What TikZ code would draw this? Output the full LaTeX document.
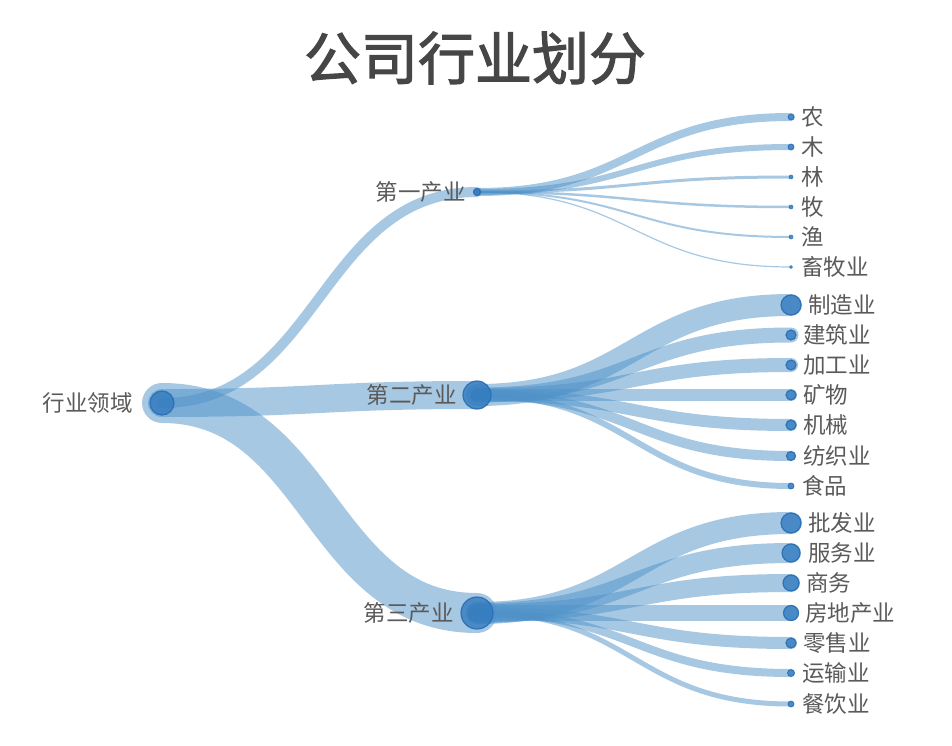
\documentclass[tikz,border=0pt]{standalone}
\usepackage{fontspec}
\newfontfamily\cjk{Noto Sans CJK SC}
\newfontfamily\cjktitle[FakeBold=2]{Noto Sans CJK SC}
\definecolor{linkc}{RGB}{79,146,200}
\definecolor{dotc}{RGB}{50,122,190}
\definecolor{dotline}{RGB}{40,110,180}
\definecolor{txt}{RGB}{90,90,90}
\definecolor{ttl}{RGB}{70,70,70}
\tikzset{
  lnk/.style={draw=linkc, draw opacity=0.5, line cap=round},
  dot/.style={circle, inner sep=0pt, fill=dotc, fill opacity=0.8, draw=dotline, draw opacity=0.9, line width=1.2pt},
  lbl/.style={font=\cjk\fontsize{22.5}{22.5}\selectfont, text=txt, inner sep=0pt},
  ttlstyle/.style={font=\cjktitle\fontsize{57}{57}\selectfont, text=ttl, inner sep=0pt},
}
\newcommand{\lk}[3]{\draw[lnk, line width=#3pt] (#1.center) .. controls +(157,0) and +(-157,0) .. (#2.center);}
\begin{document}
\begin{tikzpicture}[x=1pt,y=-1pt]
\useasboundingbox (0,0) rectangle (952,746);
\coordinate (r) at (162,403);
\coordinate (a) at (477,192);
\coordinate (b) at (477,395);
\coordinate (c) at (477,613);
\coordinate (a1) at (791,117);
\coordinate (a2) at (791,147);
\coordinate (a3) at (791,177);
\coordinate (a4) at (791,207);
\coordinate (a5) at (791,237);
\coordinate (a6) at (791,267);
\coordinate (b1) at (791,305);
\coordinate (b2) at (791,335);
\coordinate (b3) at (791,365);
\coordinate (b4) at (791,395);
\coordinate (b5) at (791,425);
\coordinate (b6) at (791,456);
\coordinate (b7) at (791,486);
\coordinate (c1) at (791,523);
\coordinate (c2) at (791,553);
\coordinate (c3) at (791,583);
\coordinate (c4) at (791,613);
\coordinate (c5) at (791,643);
\coordinate (c6) at (791,673);
\coordinate (c7) at (791,704);
% links
\lk{r}{a}{10}
\lk{r}{b}{28}
\lk{r}{c}{40}
\lk{a}{a1}{8}
\lk{a}{a2}{6}
\lk{a}{a3}{3}
\lk{a}{a4}{2.5}
\lk{a}{a5}{2}
\lk{a}{a6}{1.2}
\lk{b}{b1}{22}
\lk{b}{b2}{15}
\lk{b}{b3}{14}
\lk{b}{b4}{12}
\lk{b}{b5}{12}
\lk{b}{b6}{10}
\lk{b}{b7}{6}
\lk{c}{c1}{22}
\lk{c}{c2}{20}
\lk{c}{c3}{18}
\lk{c}{c4}{16}
\lk{c}{c5}{12}
\lk{c}{c6}{8}
\lk{c}{c7}{5}
% dots
\node[dot, minimum size=24pt] (rd) at (r) {};
\node[dot, minimum size=7pt] (ad) at (a) {};
\node[dot, minimum size=28pt] (bd) at (b) {};
\node[dot, minimum size=32pt] (cd) at (c) {};
\node[dot, minimum size=6pt, line width=0.8pt] (a1d) at (a1) {};
\node[dot, minimum size=6pt, line width=0.8pt] (a2d) at (a2) {};
\node[dot, minimum size=4pt, line width=0.6pt] (a3d) at (a3) {};
\node[dot, minimum size=4pt, line width=0.6pt] (a4d) at (a4) {};
\node[dot, minimum size=4pt, line width=0.6pt] (a5d) at (a5) {};
\node[dot, minimum size=3pt, line width=0.5pt] (a6d) at (a6) {};
\node[dot, minimum size=20pt] (b1d) at (b1) {};
\node[dot, minimum size=10pt] (b2d) at (b2) {};
\node[dot, minimum size=10pt] (b3d) at (b3) {};
\node[dot, minimum size=10pt] (b4d) at (b4) {};
\node[dot, minimum size=10pt] (b5d) at (b5) {};
\node[dot, minimum size=9pt] (b6d) at (b6) {};
\node[dot, minimum size=6pt, line width=0.8pt] (b7d) at (b7) {};
\node[dot, minimum size=20pt] (c1d) at (c1) {};
\node[dot, minimum size=18pt] (c2d) at (c2) {};
\node[dot, minimum size=16pt] (c3d) at (c3) {};
\node[dot, minimum size=15pt] (c4d) at (c4) {};
\node[dot, minimum size=10pt] (c5d) at (c5) {};
\node[dot, minimum size=7pt, line width=0.8pt] (c6d) at (c6) {};
\node[dot, minimum size=6pt, line width=0.8pt] (c7d) at (c7) {};
% labels
\node[lbl, anchor=east] (rl) at (133,403) {行业领域};
\node[lbl, anchor=east] (al) at (466,192) {第一产业};
\node[lbl, anchor=east] (bl) at (457,395) {第二产业};
\node[lbl, anchor=east] (cl) at (454,613) {第三产业};
\node[lbl, anchor=west] (a1l) at (801,117) {农};
\node[lbl, anchor=west] (a2l) at (801,147) {木};
\node[lbl, anchor=west] (a3l) at (801,177) {林};
\node[lbl, anchor=west] (a4l) at (801,207) {牧};
\node[lbl, anchor=west] (a5l) at (801,237) {渔};
\node[lbl, anchor=west] (a6l) at (801,267) {畜牧业};
\node[lbl, anchor=west] (b1l) at (808,305) {制造业};
\node[lbl, anchor=west] (b2l) at (803,335) {建筑业};
\node[lbl, anchor=west] (b3l) at (803,365) {加工业};
\node[lbl, anchor=west] (b4l) at (803,395) {矿物};
\node[lbl, anchor=west] (b5l) at (803,425) {机械};
\node[lbl, anchor=west] (b6l) at (803,456) {纺织业};
\node[lbl, anchor=west] (b7l) at (802,486) {食品};
\node[lbl, anchor=west] (c1l) at (808,523) {批发业};
\node[lbl, anchor=west] (c2l) at (808,553) {服务业};
\node[lbl, anchor=west] (c3l) at (806,583) {商务};
\node[lbl, anchor=west] (c4l) at (805,613) {房地产业};
\node[lbl, anchor=west] (c5l) at (803,643) {零售业};
\node[lbl, anchor=west] (c6l) at (802,673) {运输业};
\node[lbl, anchor=west] (c7l) at (802,704) {餐饮业};
% title
\node[ttlstyle] (title) at (475,58) {公司行业划分};
\end{tikzpicture}
\end{document}
